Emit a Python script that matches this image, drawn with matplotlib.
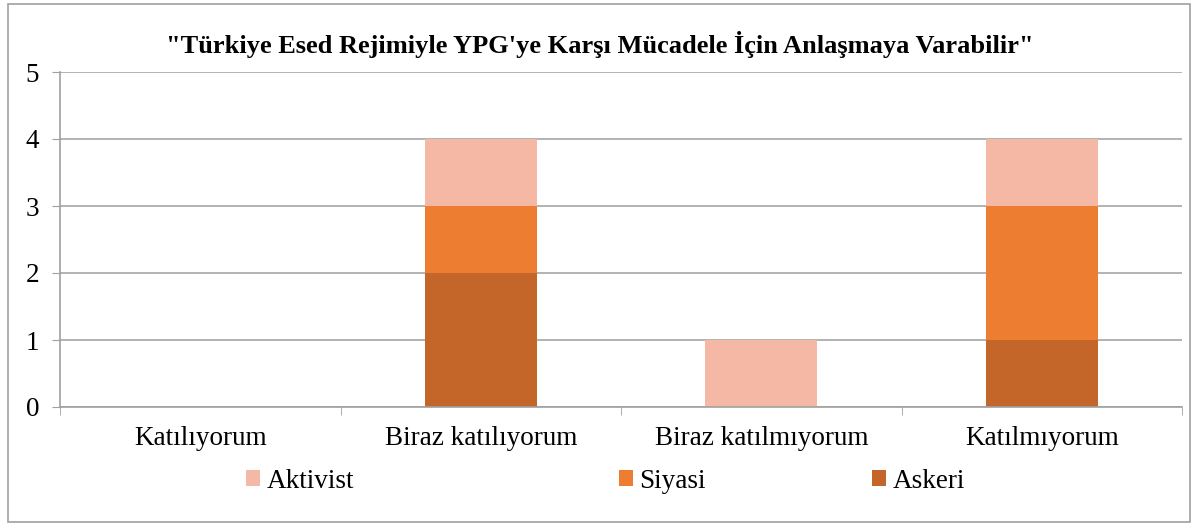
import matplotlib.pyplot as plt
from matplotlib.patches import Rectangle, Patch
import numpy as np

categories = ["Katılıyorum", "Biraz katılıyorum", "Biraz katılmıyorum", "Katılmıyorum"]
askeri = [0, 2, 0, 1]
siyasi = [0, 1, 0, 2]
aktivist = [0, 1, 1, 1]

plt.rcParams['font.family'] = ['Liberation Serif', 'DejaVu Serif']

c_askeri = '#C4652A'
c_siyasi = '#ED7D31'
c_aktivist = '#F4B8A4'

fig = plt.figure(figsize=(12, 5.25), dpi=100)
ax = fig.add_axes([60/1200, 1-407/525, (1182-60)/1200, (407-72)/525])

x = np.arange(len(categories))
w = 0.4
ax.bar(x, askeri, w, color=c_askeri, label='Askeri')
ax.bar(x, siyasi, w, bottom=askeri, color=c_siyasi, label='Siyasi')
bot2 = np.array(askeri) + np.array(siyasi)
ax.bar(x, aktivist, w, bottom=bot2, color=c_aktivist, label='Aktivist')

ax.set_xlim(-0.5, 3.5)
ax.set_ylim(0, 5)
ax.set_yticks(range(6))
ax.set_xticks(x)
ax.set_xticklabels(categories, fontsize=19.5)
ax.set_xticks(np.arange(-0.5, 4, 1), minor=True)
ax.tick_params(axis='x', which='major', length=0, pad=14)
ax.tick_params(axis='x', which='minor', length=6, color='#A0A0A0', direction='out')
ax.tick_params(axis='y', length=6, color='#A0A0A0', labelsize=19.5, pad=9)
ax.yaxis.grid(True, color='#A6A6A6', linewidth=1.2)
ax.set_axisbelow(True)
for s in ['top', 'right']:
    ax.spines[s].set_visible(False)
for s in ['left', 'bottom']:
    ax.spines[s].set_color('#A0A0A0')
    ax.spines[s].set_linewidth(1.2)

fig.text(0.5, 1-45/525, "\"Türkiye Esed Rejimiyle YPG'ye Karşı Mücadele İçin Anlaşmaya Varabilir\"",
         ha='center', va='center', fontsize=19, fontweight='bold')

# legend entries placed individually
entries = [('Aktivist', c_aktivist, 246), ('Siyasi', c_siyasi, 619), ('Askeri', c_askeri, 872)]
for lab, col, px in entries:
    fig.legend(handles=[Patch(facecolor=col, label=lab)], loc='center left',
               bbox_to_anchor=(px/1200, 1-481/525), frameon=False, fontsize=19.5,
               handlelength=0.5, handleheight=0.5, handletextpad=0.25, borderpad=0, borderaxespad=0)

fig.patches.append(Rectangle((8/1200, 3/525), 1182/1200, 518/525, transform=fig.transFigure,
                             fill=False, edgecolor='#A0A0A0', linewidth=1.2))

fig.savefig('out.png', dpi=100)
